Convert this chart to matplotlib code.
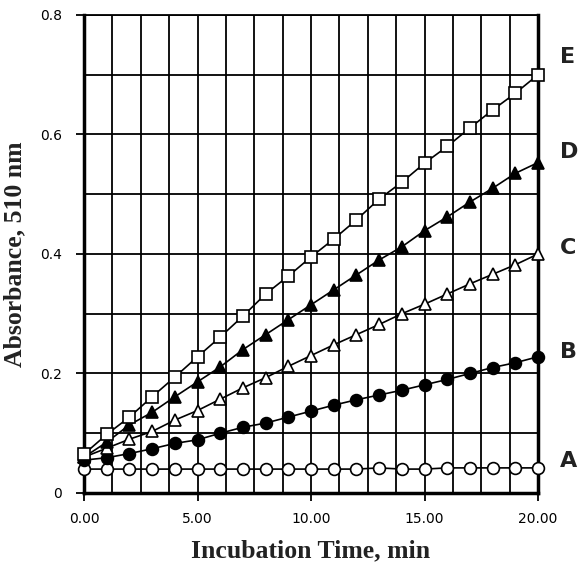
import matplotlib

matplotlib.use("Agg")
import matplotlib.pyplot as plt
from matplotlib.ticker import MultipleLocator, FixedLocator
import numpy as np

# incubation time (min) and absorbance at 510 nm for curves A..E
time_min = np.arange(0, 21)
abs_a = [0.040, 0.040, 0.040, 0.040, 0.040, 0.040, 0.040, 0.040, 0.040, 0.040, 0.040,
         0.040, 0.040, 0.042, 0.040, 0.040, 0.042, 0.042, 0.042, 0.042, 0.042]
abs_b = [0.055, 0.059, 0.066, 0.074, 0.083, 0.089, 0.100, 0.110, 0.117, 0.127, 0.137,
         0.147, 0.156, 0.164, 0.172, 0.181, 0.190, 0.200, 0.210, 0.218, 0.228]
abs_c = [0.060, 0.075, 0.090, 0.103, 0.122, 0.138, 0.157, 0.176, 0.193, 0.212, 0.230,
         0.248, 0.265, 0.282, 0.300, 0.316, 0.333, 0.350, 0.366, 0.382, 0.400]
abs_d = [0.060, 0.085, 0.114, 0.135, 0.161, 0.186, 0.211, 0.240, 0.265, 0.290, 0.315,
         0.340, 0.365, 0.390, 0.412, 0.439, 0.462, 0.487, 0.510, 0.535, 0.553]
abs_e = [0.065, 0.098, 0.127, 0.161, 0.194, 0.228, 0.261, 0.296, 0.333, 0.363, 0.395,
         0.425, 0.457, 0.492, 0.520, 0.552, 0.580, 0.611, 0.641, 0.669, 0.700]

# name, values, marker, face colour, marker size, label height
series = [
    ("A", abs_a, "o", "white", 8.5, 0.054),
    ("B", abs_b, "o", "black", 8.5, 0.236),
    ("C", abs_c, "^", "white", 9, 0.410),
    ("D", abs_d, "^", "black", 9, 0.571),
    ("E", abs_e, "s", "white", 9, 0.729),
]


def main() -> None:
    fig = plt.figure(figsize=(5.81, 5.66), dpi=100)
    ax = fig.add_axes([0.1446, 0.129, 0.7814, 0.8445])

    for name, vals, mk, fc, ms, ylab in series:
        ax.plot(time_min, vals, color="black", linewidth=1.2, marker=mk,
                markersize=ms, markerfacecolor=fc, markeredgecolor="black",
                markeredgewidth=1.2, zorder=3, clip_on=False)
        ax.text(20.95, ylab, name, fontsize=16, fontweight="bold",
                family="DejaVu Sans", va="center", ha="left", color="#222222")

    ax.set_xlim(0, 20)
    ax.set_ylim(0, 0.8)
    ax.xaxis.set_major_locator(FixedLocator([0, 5, 10, 15, 20]))
    ax.xaxis.set_minor_locator(MultipleLocator(1.25))
    ax.yaxis.set_major_locator(FixedLocator([0, 0.2, 0.4, 0.6, 0.8]))
    ax.yaxis.set_minor_locator(MultipleLocator(0.1))
    ax.set_xticklabels(["0.00", "5.00", "10.00", "15.00", "20.00"])
    ax.set_yticklabels(["0", "0.2", "0.4", "0.6", "0.8"])
    ax.grid(True, which="both", color="black", linewidth=1.3, zorder=1)
    ax.set_axisbelow(True)
    ax.tick_params(which="major", direction="out", length=6, width=1.3,
                   labelsize=10)
    ax.tick_params(axis="x", which="major", pad=8)
    ax.tick_params(axis="y", which="major", pad=10)
    ax.tick_params(which="minor", length=0)

    for side in ("left", "bottom", "right"):
        ax.spines[side].set_linewidth(2.5)
    ax.spines["top"].set_linewidth(1.3)

    ax.set_xlabel("Incubation Time, min", family="Liberation Serif",
                  fontweight="bold", fontsize=18.5, labelpad=9, color="#222222")
    ax.set_ylabel("Absorbance, 510 nm", family="Liberation Serif",
                  fontweight="bold", fontsize=18.5, labelpad=10, color="#222222")

    fig.savefig("out.png", dpi=100)


if __name__ == "__main__":
    main()
